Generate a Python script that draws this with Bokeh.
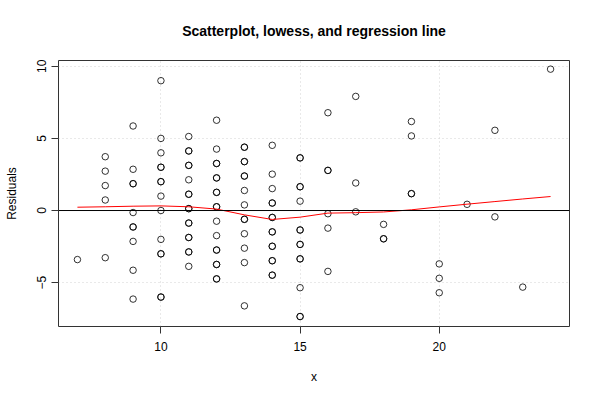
from bokeh.plotting import figure
from bokeh.models import Range1d, Span, FixedTicker, ColumnDataSource
from bokeh.embed import file_html
from bokeh.resources import INLINE

# Scatter data: x value and residual (duplicates are overlapping points)
x_values = (
    [7]
    + [8] * 5
    + [9] * 10
    + [10] * 14
    + [11] * 17
    + [12] * 18
    + [13] * 14
    + [14] * 15
    + [15] * 14
    + [16] * 6
    + [17] * 3
    + [18] * 3
    + [19] * 4
    + [20] * 3
    + [21]
    + [22] * 2
    + [23]
    + [24]
)
residuals = (
    [-3.40]
    + [3.73, 2.73, 1.73, 0.73, -3.27]
    + [5.86, 2.86, 1.86, 1.86, -0.14, -1.14, -1.14, -2.14, -4.14, -6.14]
    + [9.0, 5.0, 4.0, 3.0, 3.0, 2.0, 2.0, 1.0, 0.0, -2.0, -3.0, -3.0, -6.0, -6.0]
    + [5.13, 4.13, 4.13, 3.13, 3.13, 2.13, 1.13, 1.13, 0.13, 0.13, -0.87, -0.87,
       -1.87, -1.87, -2.87, -2.87, -3.87]
    + [6.26, 4.26, 3.26, 3.26, 2.26, 2.26, 1.26, 1.26, 0.26, 0.26, -0.74, -1.74,
       -2.74, -2.74, -3.74, -3.74, -4.74, -4.74]
    + [4.39, 4.39, 3.39, 3.39, 2.39, 2.39, 1.39, 0.39, -0.61, -0.61, -1.61, -2.61,
       -3.61, -6.61]
    + [4.52, 2.52, 1.52, 0.52, 0.52, -0.48, -0.48, -1.48, -1.48, -2.48, -2.48,
       -3.48, -3.48, -4.48, -4.48]
    + [3.65, 3.65, 1.65, 1.65, 0.65, -1.35, -1.35, -2.35, -2.35, -3.35, -3.35,
       -5.35, -7.35, -7.35]
    + [6.78, 2.78, 2.78, -0.22, -1.22, -4.22]
    + [7.91, 1.91, -0.09]
    + [-0.96, -1.96, -1.96]
    + [6.17, 5.17, 1.17, 1.17]
    + [-3.70, -4.70, -5.70]
    + [0.43]
    + [5.56, -0.44]
    + [-5.31]
    + [9.8]
)

# Lowess smooth evaluated at the unique x values
lowess_x = [7, 8, 9, 10, 11, 12, 13, 14, 15, 16, 17, 18, 19, 20, 21, 22, 23, 24]
lowess_y = [0.23, 0.26, 0.30, 0.32, 0.26, 0.10, -0.30, -0.62, -0.46, -0.18,
            -0.15, -0.10, 0.05, 0.25, 0.44, 0.62, 0.80, 0.97]

regression_level = 0.0
x_ticks = [10, 15, 20]
y_ticks = [-5, 0, 5, 10]

FONT = "Liberation Sans"

p = figure(
    width=600, height=400,
    output_backend="svg", toolbar_location=None,
    x_range=Range1d(6.32, 24.68), y_range=Range1d(-8.04, 10.4),
    min_border_left=58, min_border_right=31, min_border_top=59, min_border_bottom=74,
    title="Scatterplot, lowess, and regression line",
    background_fill_color="white", border_fill_color="white",
)

p.title.align = "center"
p.title.vertical_align = "middle"
p.title.text_font = FONT
p.title.text_font_size = "14px"
p.title.text_font_style = "bold"
p.title.text_color = "black"
p.title.standoff = 42

p.outline_line_color = "#333333"
p.outline_line_width = 1

for ax in (p.xaxis[0], p.yaxis[0]):
    ax.axis_line_color = None
    ax.major_tick_out = 7
    ax.major_tick_in = 0
    ax.major_tick_line_color = "#333333"
    ax.minor_tick_line_color = None
    ax.major_label_text_font = FONT
    ax.major_label_text_font_size = "12px"
    ax.major_label_text_color = "black"
    ax.axis_label_text_font = FONT
    ax.axis_label_text_font_size = "12px"
    ax.axis_label_text_font_style = "normal"
    ax.axis_label_text_color = "black"

p.xaxis.ticker = FixedTicker(ticks=x_ticks)
p.yaxis.ticker = FixedTicker(ticks=y_ticks)
p.xaxis.axis_label = "x"
p.yaxis.axis_label = "Residuals"
p.xaxis.major_label_standoff = 8
p.xaxis.axis_label_standoff = 16
p.yaxis.major_label_standoff = 5
p.yaxis.axis_label_standoff = 16
p.yaxis.major_label_orientation = "vertical"

p.xgrid.ticker = FixedTicker(ticks=x_ticks)
p.ygrid.ticker = FixedTicker(ticks=y_ticks)
for g in (p.xgrid[0], p.ygrid[0]):
    g.grid_line_color = "#d3d3d3"
    g.grid_line_dash = "1 3"
    g.grid_line_width = 1

src = ColumnDataSource(data=dict(x=x_values, y=residuals))
p.scatter("x", "y", source=src, marker="circle", size=6.5,
          fill_color=None, line_color="black", line_alpha=0.8, line_width=1)

p.add_layout(Span(location=regression_level, dimension="width",
                  line_color="black", line_width=1))

p.line(lowess_x, lowess_y, line_color="red", line_width=1)

open("out.html", "w").write(file_html(p, INLINE))
